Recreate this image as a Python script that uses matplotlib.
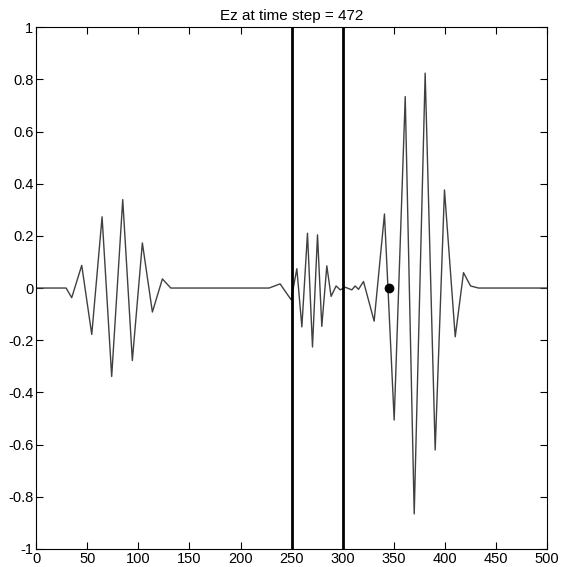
import matplotlib
matplotlib.use("Agg")
import matplotlib.pyplot as plt

plt.rcParams['font.family'] = ['Liberation Sans', 'DejaVu Sans']

# Ez field samples (extrema of the wave packets)
cell = [0, 29.4, 34.9, 44.7, 54.5, 64.6, 74.0, 84.8, 94.2, 104.0, 113.8, 123.6, 131.8,
        228.0, 238.7, 249.5, 255.1, 260.0, 265.5, 270.4, 275.3, 279.5, 284.4, 288.6,
        293.5, 297.5, 302.4, 308.9, 312.1, 315.4, 320.3, 330.7, 340.8, 350.3, 361.1,
        369.9, 380.6, 390.4, 399.5, 410.0, 418.1, 425.0, 432.8, 500]
ez = [0, 0, -0.037, 0.087, -0.178, 0.273, -0.339, 0.339, -0.278, 0.173, -0.092, 0.035, 0,
      0, 0.016, -0.045, 0.074, -0.149, 0.21, -0.226, 0.204, -0.147, 0.085, -0.032,
      0.008, -0.007, 0.003, -0.007, 0.008, -0.005, 0.025, -0.127, 0.284, -0.506, 0.734,
      -0.866, 0.824, -0.621, 0.376, -0.187, 0.059, 0.008, 0, 0]

# slab boundaries and probe point
slab = [250, 300]
probe_x = 345.7
probe_y = 0

xticks = [0, 50, 100, 150, 200, 250, 300, 350, 400, 450, 500]
yticks = [-1, -0.8, -0.6, -0.4, -0.2, 0, 0.2, 0.4, 0.6, 0.8, 1]
ylabels = ['-1', '-0.8', '-0.6', '-0.4', '-0.2', '0', '0.2', '0.4', '0.6', '0.8', '1']

fig = plt.figure(figsize=(5.63, 5.67), dpi=100)
ax = fig.add_axes([0.064, 0.032, 0.908, 0.92])

ax.plot(cell, ez, color='#404040', lw=1.0)
for s in slab:
    ax.axvline(s, color='black', lw=2)
ax.plot(probe_x, probe_y, 'o', color='black', ms=6)

ax.set_xlim(0, 500)
ax.set_ylim(-1, 1)
ax.set_xticks(xticks)
ax.set_yticks(yticks)
ax.set_yticklabels(ylabels)
ax.tick_params(direction='in', top=True, right=True, length=5, width=0.8,
               labelsize=10.5, pad=2)
for sp in ax.spines.values():
    sp.set_linewidth(0.8)

ax.set_title('Ez at time step = 472', fontsize=11, pad=5)

fig.savefig('out.png', dpi=100)
